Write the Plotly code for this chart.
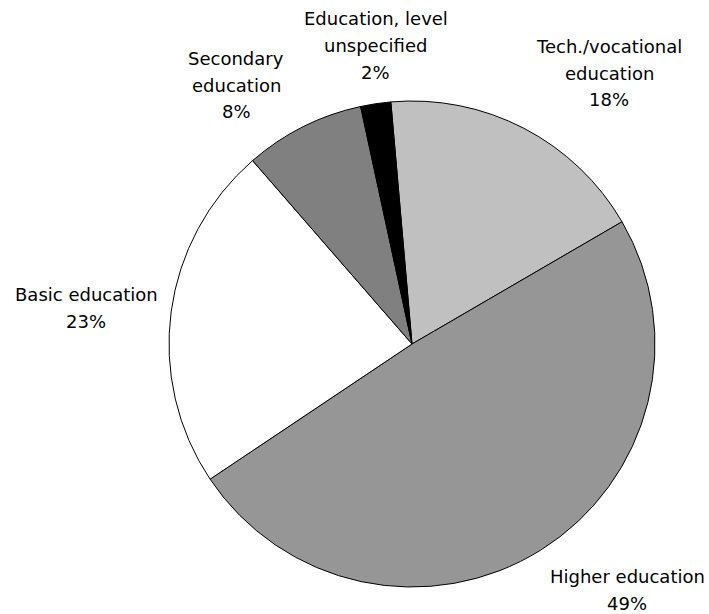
"""Pie chart: distribution by education level."""
import plotly.graph_objects as go

# data
labels = [
    "Tech./vocational<br>education",
    "Higher education",
    "Basic education",
    "Secondary<br>education",
    "Education, level<br>unspecified",
]
values = [18, 49, 23, 8, 2]
colors = ["#C0C0C0", "#969696", "#FFFFFF", "#808080", "#000000"]

W, H = 709, 614

# label block centres, in pixels (x, y from top)
label_pos = [(609, 73), (627, 590), (86, 308), (236, 85), (376, 45)]
LINE_PITCH = 27

# pie centre and radius in pixels
cx, cy, rad = 412, 344, 243

fig = go.Figure(
    go.Pie(
        labels=[l.replace("<br>", " ") for l in labels],
        values=values,
        sort=False,
        direction="clockwise",
        rotation=-5,
        textinfo="none",
        hoverinfo="label+percent",
        marker=dict(colors=colors, line=dict(color="#000000", width=1)),
        domain=dict(
            x=[(cx - rad) / W, (cx + rad) / W],
            y=[(H - cy - rad) / H, (H - cy + rad) / H],
        ),
        showlegend=False,
    )
)

for lab, val, (px_, py_) in zip(labels, values, label_pos):
    lines = lab.split("<br>") + [f"{val}%"]
    n = len(lines)
    for i, line in enumerate(lines):
        y_px = py_ + (i - (n - 1) / 2) * LINE_PITCH
        fig.add_annotation(
            text=line,
            x=px_ / W,
            y=1 - y_px / H,
            xref="paper",
            yref="paper",
            xanchor="center",
            yanchor="middle",
            showarrow=False,
            font=dict(family="DejaVu Sans", size=18, color="#000000"),
        )

fig.update_layout(
    width=W,
    height=H,
    margin=dict(l=0, r=0, t=0, b=0),
    paper_bgcolor="#FFFFFF",
    plot_bgcolor="#FFFFFF",
)

# drop the default 8px body margin so the figure fills the window
fig.write_html(
    "out.html",
    config={"displayModeBar": False},
    post_script="document.body.style.margin='0';document.body.style.overflow='hidden';",
)
